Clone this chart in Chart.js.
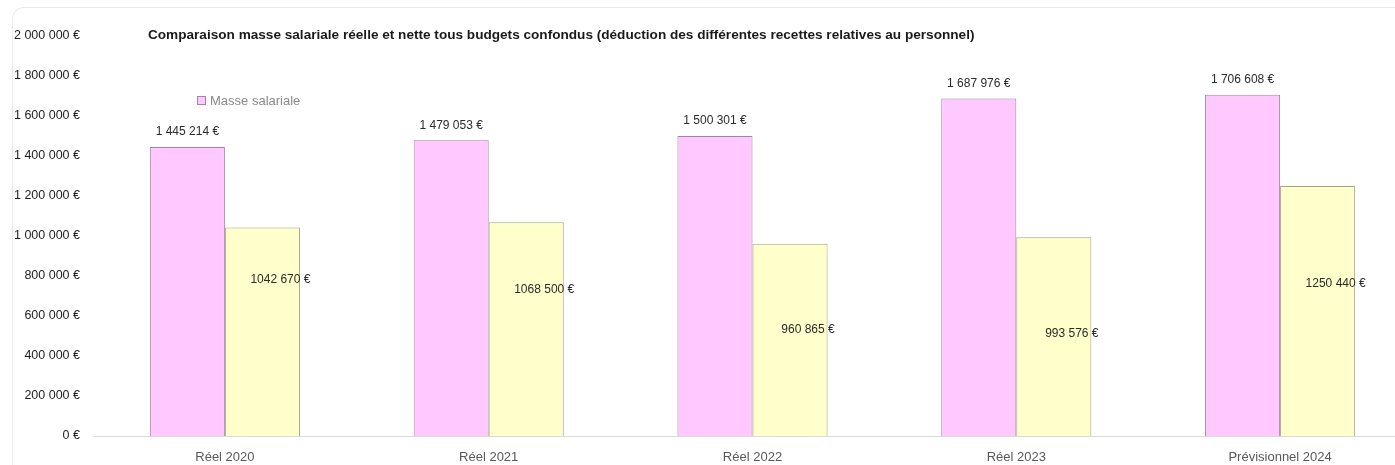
<!DOCTYPE html>
<html lang="fr">
<head>
    <meta charset="UTF-8">
    <title>Masse salariale</title>
    <script src="https://cdn.jsdelivr.net/npm/chart.js"></script>
    <style>
        body {
            margin: 0;
            overflow: hidden;
            background: #fff;
            font-family: "Liberation Sans", Arial, sans-serif;
        }
        .frame {
            position: absolute;
            left: 12px;
            top: 7px;
            width: 1500px;
            height: 600px;
            border-top: 1px solid #e8e8e8;
            border-left: 1px solid #ececec;
            border-top-left-radius: 12px;
        }
        .chart-container {
            position: absolute;
            left: 0;
            top: 0;
            width: 1420px;
            height: 465px;
        }
    </style>
</head>
<body>

    <div class="frame"></div>
    <div class="chart-container">
        <canvas id="salaryChart"></canvas>
    </div>

    <script>
        const categories = ["Réel 2020", "Réel 2021", "Réel 2022", "Réel 2023", "Prévisionnel 2024"];
        const masseSalariale = [1445214, 1479053, 1500301, 1687976, 1706608];
        const masseNette = [1042670, 1068500, 960865, 993576, 1250440];
        const yTicks = [0, 200000, 400000, 600000, 800000, 1000000, 1200000, 1400000, 1600000, 1800000, 2000000];
        // hauteur (en €) où sont posées les étiquettes de la masse nette
        const netLabelAt = [780000, 730000, 530000, 510000, 760000];

        const title = "Comparaison masse salariale réelle et nette tous budgets confondus (déduction des différentes recettes relatives au personnel)";

        function euros(v) {
            return String(v).replace(/\B(?=(\d{3})+(?!\d))/g, " ") + " €";
        }
        // les étiquettes nettes n'ont pas d'espace après les millions
        function eurosCompact(v) {
            const k = Math.floor(v / 1000);
            return k + " " + String(v % 1000).padStart(3, "0") + " €";
        }

        const labelsPlugin = {
            id: "labels",
            afterDatasetsDraw(chart) {
                const ctx = chart.ctx;
                const y = chart.scales.y;
                ctx.save();
                ctx.font = "12px 'Liberation Sans', Arial, sans-serif";
                ctx.fillStyle = "#2b2b2b";
                ctx.textAlign = "center";
                ctx.textBaseline = "middle";
                chart.getDatasetMeta(0).data.forEach((bar, i) => {
                    ctx.fillText(euros(masseSalariale[i]), bar.x, bar.y - 15);
                });
                chart.getDatasetMeta(1).data.forEach((bar, i) => {
                    ctx.fillText(eurosCompact(masseNette[i]), bar.x + 18, y.getPixelForValue(netLabelAt[i]));
                });

                // titre
                ctx.font = "bold 13.6px 'Liberation Sans', Arial, sans-serif";
                ctx.fillStyle = "#1a1a1a";
                ctx.textAlign = "left";
                ctx.fillText(title, 148, 35);

                // légende (une seule entrée)
                const ds = chart.data.datasets[0];
                ctx.fillStyle = ds.backgroundColor;
                ctx.strokeStyle = ds.borderColor;
                ctx.lineWidth = 1;
                ctx.fillRect(197.5, 96.5, 8, 8);
                ctx.strokeRect(197.5, 96.5, 8, 8);
                ctx.font = "13px 'Liberation Sans', Arial, sans-serif";
                ctx.fillStyle = "#8a8a8a";
                ctx.fillText(ds.label, 210, 101);
                ctx.restore();
            }
        };

        new Chart(document.getElementById("salaryChart"), {
            type: "bar",
            data: {
                labels: categories,
                datasets: [{
                    label: "Masse salariale",
                    data: masseSalariale,
                    backgroundColor: "#ffc9ff",
                    borderColor: "#a583a5",
                    borderWidth: 1,
                    borderSkipped: "bottom"
                }, {
                    label: "Masse salariale nette",
                    data: masseNette,
                    backgroundColor: "#ffffcc",
                    borderColor: "#a3a386",
                    borderWidth: 1,
                    borderSkipped: "bottom"
                }]
            },
            options: {
                responsive: true,
                maintainAspectRatio: false,
                animation: false,
                layout: { padding: { top: 36, right: 8, left: 0, bottom: 0 } },
                datasets: {
                    bar: { categoryPercentage: 0.569, barPercentage: 1.0 }
                },
                plugins: {
                    legend: { display: false },
                    tooltip: { enabled: false }
                },
                scales: {
                    x: {
                        grid: { display: false },
                        border: { display: true, color: "#d9d9d9" },
                        ticks: {
                            color: "#595959",
                            padding: 6,
                            font: { size: 13, family: "'Liberation Sans', Arial, sans-serif" }
                        },
                        afterFit(scale) { scale.height = 29; }
                    },
                    y: {
                        min: 0,
                        max: 2000000,
                        afterBuildTicks(scale) { scale.ticks = yTicks.map(v => ({ value: v })); },
                        grid: { display: false, drawTicks: false },
                        border: { display: false },
                        ticks: {
                            color: "#1f1f1f",
                            padding: 13,
                            font: { size: 12.5, family: "'Liberation Sans', Arial, sans-serif" },
                            callback: v => euros(v)
                        },
                        afterFit(scale) { scale.width = 93; }
                    }
                }
            },
            plugins: [labelsPlugin]
        });
    </script>

</body>
</html>
